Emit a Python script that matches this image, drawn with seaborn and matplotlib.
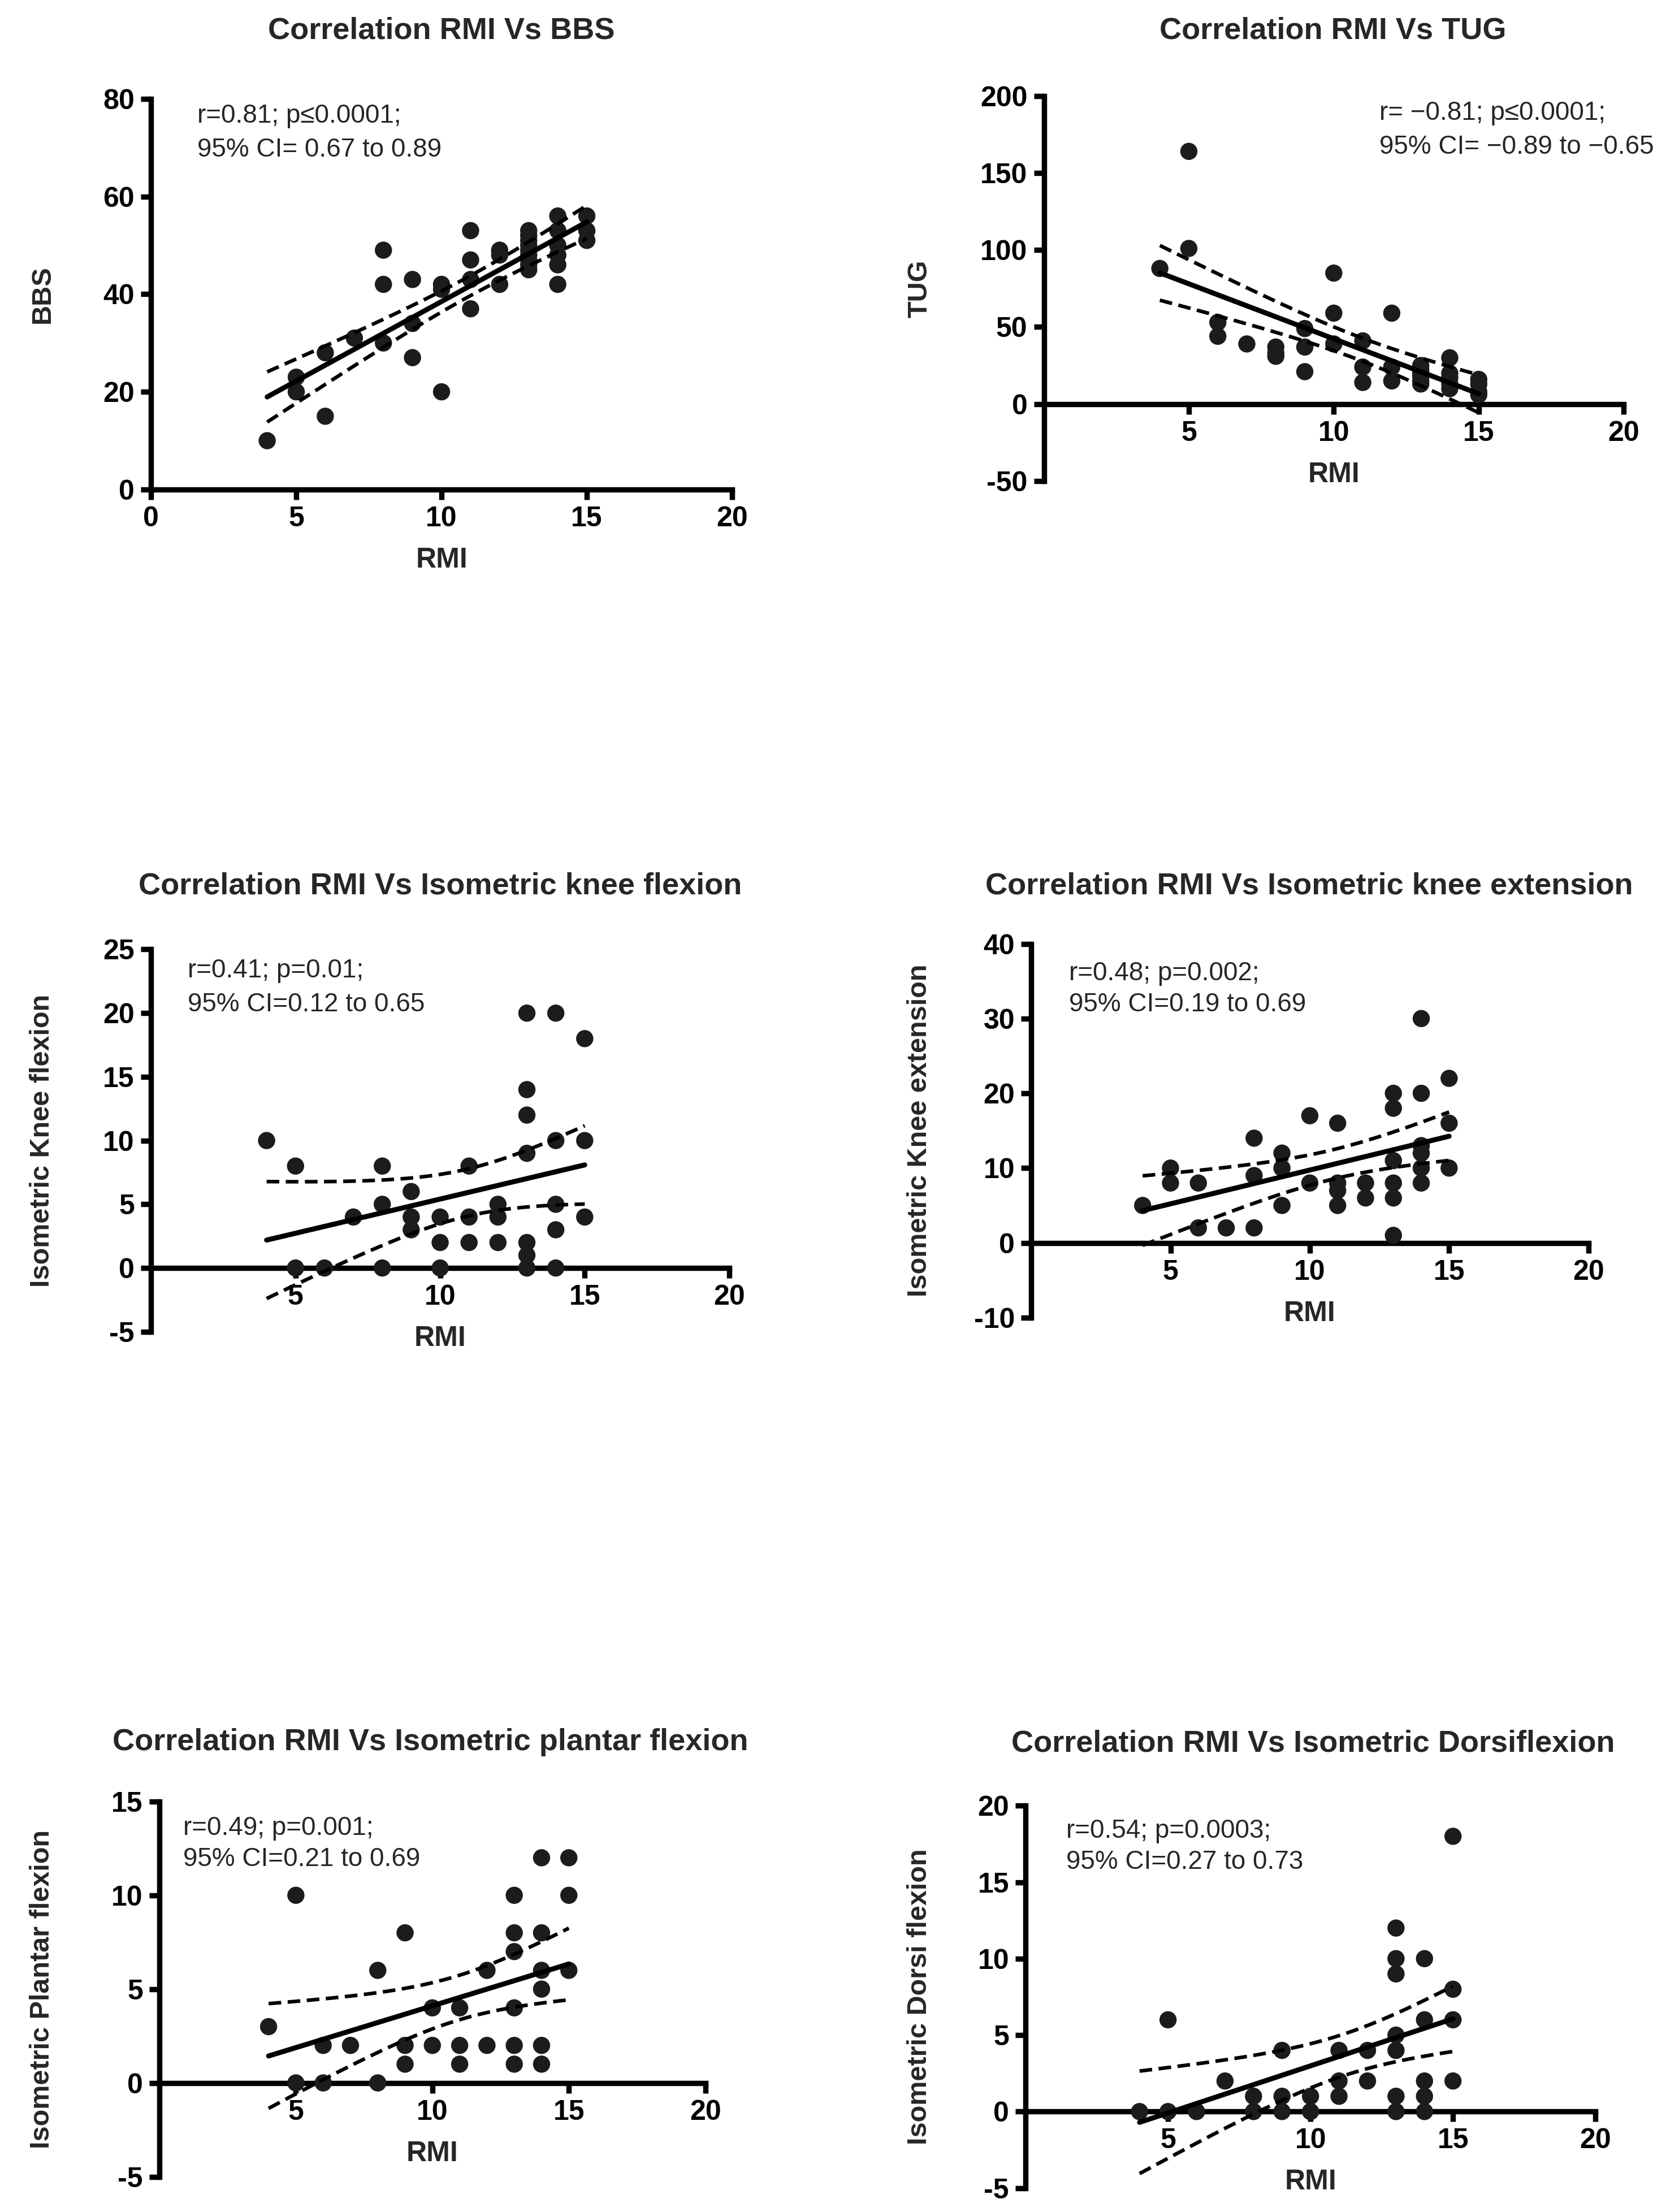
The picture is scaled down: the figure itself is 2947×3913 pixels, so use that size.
# Correlation of RMI with balance / mobility / isometric strength measures
import numpy as np
import matplotlib
matplotlib.use("Agg")
import matplotlib.pyplot as plt
import seaborn as sns

# ---- data ----
rmi_bbs = [4, 5, 5, 6, 6, 7, 8, 8, 8, 9, 9, 9, 10, 10, 10, 11, 11, 11, 11, 12, 12, 12,
           13, 13, 13, 13, 13, 13, 13, 13, 13, 14, 14, 14, 14, 14, 14, 15, 15, 15]
bbs = [10, 23, 20, 28, 15, 31, 49, 42, 30, 43, 34, 27, 42, 41, 20, 53, 47, 43, 37, 49, 48, 42,
       53, 52, 51, 50, 49, 48, 47, 46, 45, 56, 53, 50, 48, 46, 42, 56, 53, 51]

rmi_tug = [4, 5, 5, 6, 6, 7, 8, 8, 8, 9, 9, 9, 10, 10, 10, 11, 11, 11, 12, 12, 12,
           13, 13, 13, 13, 13, 13, 14, 14, 14, 14, 14, 15, 15, 15, 15]
tug = [88, 164, 101, 53, 44, 39, 37, 33, 31, 49, 37, 21, 85, 59, 39, 41, 24, 14, 59, 24, 15,
       25, 22, 20, 18, 15, 13, 30, 20, 17, 13, 10, 16, 13, 8, 6]

rmi_kf = [4, 5, 5, 6, 7, 8, 8, 8, 9, 9, 9, 10, 10, 10, 11, 11, 11, 12, 12, 12,
          13, 13, 13, 13, 13, 13, 13, 14, 14, 14, 14, 14, 15, 15, 15]
knee_flex = [10, 8, 0, 0, 4, 8, 5, 0, 6, 4, 3, 4, 2, 0, 8, 4, 2, 5, 4, 2,
             20, 14, 12, 9, 2, 1, 0, 20, 10, 5, 3, 0, 18, 10, 4]

rmi_ke = [4, 5, 5, 6, 6, 7, 8, 8, 8, 9, 9, 9, 10, 10, 11, 11, 11, 11, 12, 12,
          13, 13, 13, 13, 13, 13, 14, 14, 14, 14, 14, 14, 15, 15, 15]
knee_ext = [5, 10, 8, 8, 2, 2, 14, 9, 2, 12, 10, 5, 17, 8, 16, 8, 7, 5, 8, 6,
            20, 18, 11, 8, 6, 1, 30, 20, 13, 12, 10, 8, 22, 16, 10]

rmi_pf = [4, 5, 5, 6, 6, 7, 8, 8, 9, 9, 9, 10, 10, 11, 11, 11, 12, 12,
          13, 13, 13, 13, 13, 13, 14, 14, 14, 14, 14, 14, 15, 15, 15]
plantar = [3, 10, 0, 2, 0, 2, 6, 0, 8, 2, 1, 4, 2, 4, 2, 1, 6, 2,
           10, 8, 7, 4, 2, 1, 12, 8, 6, 5, 2, 1, 12, 10, 6]

rmi_df = [4, 5, 5, 6, 7, 8, 8, 9, 9, 9, 10, 10, 11, 11, 11, 12, 12,
          13, 13, 13, 13, 13, 13, 13, 14, 14, 14, 14, 14, 15, 15, 15, 15]
dorsi = [0, 6, 0, 0, 2, 1, 0, 4, 1, 0, 1, 0, 4, 2, 1, 4, 2,
         12, 10, 9, 5, 4, 1, 0, 10, 6, 2, 1, 0, 18, 8, 6, 2]

titles = ["Correlation RMI Vs BBS", "Correlation RMI Vs TUG",
          "Correlation RMI Vs Isometric knee flexion", "Correlation RMI Vs Isometric knee extension",
          "Correlation RMI Vs Isometric plantar flexion", "Correlation RMI Vs Isometric Dorsiflexion"]
ylabels = ["BBS", "TUG", "Isometric Knee flexion", "Isometric Knee extension",
           "Isometric Plantar flexion", "Isometric Dorsi flexion"]
stats_1 = ["r=0.81; p\u22640.0001;", "r= \u22120.81; p\u22640.0001;", "r=0.41; p=0.01;",
           "r=0.48; p=0.002;", "r=0.49; p=0.001;", "r=0.54; p=0.0003;"]
stats_2 = ["95% CI= 0.67 to 0.89", "95% CI= \u22120.89 to \u22120.65", "95% CI=0.12 to 0.65",
           "95% CI=0.19 to 0.69", "95% CI=0.21 to 0.69", "95% CI=0.27 to 0.73"]
yticks = [[0, 20, 40, 60, 80], [-50, 0, 50, 100, 150, 200], [-5, 0, 5, 10, 15, 20, 25],
          [-10, 0, 10, 20, 30, 40], [-5, 0, 5, 10, 15], [-5, 0, 5, 10, 15, 20]]
xticks = [[0, 5, 10, 15, 20]] + [[5, 10, 15, 20]] * 5

panels = [(rmi_bbs, bbs), (rmi_tug, tug), (rmi_kf, knee_flex),
          (rmi_ke, knee_ext), (rmi_pf, plantar), (rmi_df, dorsi)]

# ---- layout, measured on a 1181 x 1568 copy of the figure ----
W, H = 1181.0, 1568.0
# x of data 0, x of data 20, y(px) of top tick, y(px) of bottom tick
boxes = [(107, 519, 70, 347), (740, 1151, 68, 341), (107, 517, 673, 944),
         (731, 1126, 669, 934), (113, 500, 1277, 1543), (727, 1131, 1280, 1551)]
title_pos = [(313, 22), (945, 22), (312, 628), (928, 628), (305, 1235), (931, 1236)]
stat_pos = [(140, 82, 106), (978, 80, 104), (133, 688, 712),
            (758, 690, 712), (130, 1296, 1318), (756, 1298, 1320)]
ylab_x = [30, 652, 30, 652, 30, 652]

sns.set_style("ticks")
plt.rcParams["font.family"] = ["Liberation Sans", "DejaVu Sans"]
plt.rcParams["axes.unicode_minus"] = False


def ci_lines(x, y):
    # 95% confidence band of the fitted line
    x = np.asarray(x, float)
    y = np.asarray(y, float)
    n = len(x)
    b, a = np.polyfit(x, y, 1)
    xs = np.linspace(x.min(), x.max(), 100)
    s = np.sqrt(np.sum((y - (a + b * x)) ** 2) / (n - 2))
    sxx = np.sum((x - x.mean()) ** 2)
    se = s * np.sqrt(1 / n + (xs - x.mean()) ** 2 / sxx)
    t = 2.03
    yh = a + b * xs
    return xs, yh - t * se, yh + t * se


fig = plt.figure(figsize=(2947 / 200, 3913 / 200), dpi=200)

for i, (xv, yv) in enumerate(panels):
    x0, x20, ytop, ybot = boxes[i]
    ax = fig.add_axes([x0 / W, 1 - ybot / H, (x20 - x0) / W, (ybot - ytop) / H])

    sns.scatterplot(x=xv, y=yv, ax=ax, s=120, color="#1c1c1c", edgecolor="none",
                    zorder=3, clip_on=False)
    sns.regplot(x=xv, y=yv, ax=ax, scatter=False, ci=None, color="black",
                line_kws={"lw": 3.2, "zorder": 4})
    xs, lo, hi = ci_lines(xv, yv)
    ax.plot(xs, lo, color="black", lw=2.3, ls=(0, (3.5, 1.8)), zorder=4)
    ax.plot(xs, hi, color="black", lw=2.3, ls=(0, (3.5, 1.8)), zorder=4)

    ax.set_xlim(0, 20)
    ax.set_ylim(yticks[i][0], yticks[i][-1])
    ax.set_xticks(xticks[i])
    ax.set_yticks(yticks[i])
    ax.set_xlabel("")
    ax.set_ylabel("")

    for side in ["top", "right"]:
        ax.spines[side].set_visible(False)
    ax.spines["left"].set_position(("data", 0))
    ax.spines["bottom"].set_position(("data", 0))
    for side in ["left", "bottom"]:
        ax.spines[side].set_linewidth(3.4)
        ax.spines[side].set_color("black")
        ax.spines[side].set_capstyle("projecting")
    ax.tick_params(width=3.4, length=6.5, labelsize=18, colors="black", pad=4)
    for lab in ax.get_xticklabels() + ax.get_yticklabels():
        lab.set_fontweight("bold")

    ax.annotate("RMI", xy=(10, 0), xycoords="data", xytext=(0, -45),
                textcoords="offset points", ha="center", va="center",
                fontsize=18, fontweight="bold")

    tx, ty = title_pos[i]
    fig.text(tx / W, 1 - ty / H, titles[i], ha="center", va="center",
             fontsize=19.5, fontweight="bold")
    sx, sy1, sy2 = stat_pos[i]
    fig.text(sx / W, 1 - sy1 / H, stats_1[i], ha="left", va="center", fontsize=16.5)
    fig.text(sx / W, 1 - sy2 / H, stats_2[i], ha="left", va="center", fontsize=16.5)
    fig.text(ylab_x[i] / W, 1 - (ytop + ybot) / 2 / H, ylabels[i], ha="center",
             va="center", rotation=90, fontsize=17.5, fontweight="bold")

fig.savefig("out.png", dpi=200, facecolor="white")
